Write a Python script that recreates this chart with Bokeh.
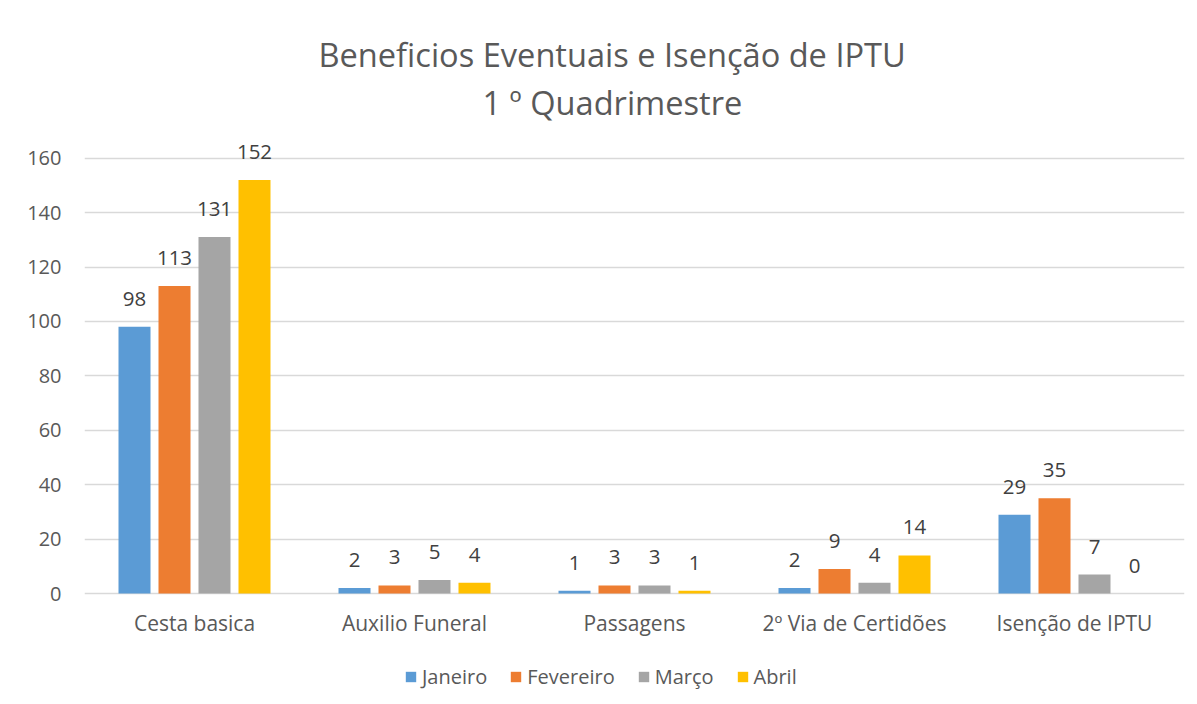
from bokeh.plotting import figure
from bokeh.models import (ColumnDataSource, FactorRange, Range1d, Legend, LegendItem,
                          Title, FixedTicker)
from bokeh.transform import dodge
from bokeh.core.properties import value
from bokeh.embed import file_html
from bokeh.resources import INLINE

categories = ["Cesta basica", "Auxilio Funeral", "Passagens", "2º Via de Certidões", "Isenção de IPTU"]
months = ["Janeiro", "Fevereiro", "Março", "Abril"]
janeiro = [98, 2, 1, 2, 29]
fevereiro = [113, 3, 3, 9, 35]
marco = [131, 5, 3, 4, 7]
abril = [152, 4, 1, 14, 0]
y_ticks = [0, 20, 40, 60, 80, 100, 120, 140, 160]

series = [janeiro, fevereiro, marco, abril]
colors = ["#5B9BD5", "#ED7D31", "#A5A5A5", "#FFC000"]
offsets = [-0.2727, -0.0909, 0.0909, 0.2727]
FONT = "Open Sans"
TXT = "#595959"

# the frame extends below zero so that category labels and legend sit inside it
p = figure(frame_width=1100, frame_height=575, output_backend="svg", toolbar_location=None,
           x_range=FactorRange(factors=categories, range_padding=0),
           y_range=Range1d(-39.3, 172),
           min_border_left=84, min_border_right=13, min_border_top=125, min_border_bottom=4)

p.title.text = "Beneficios Eventuais e Isenção de IPTU"
p.title.text_font = FONT
p.title.text_font_size = "32.6px"
p.title.text_font_style = "normal"
p.title.text_color = TXT
p.title.align = "left"
p.title.offset = 234
p.title.standoff = 1
t2 = Title(text="1 º Quadrimestre", text_font=FONT, text_font_size="32.6px",
           text_font_style="normal", text_color=TXT, align="left", offset=398, standoff=1)
p.add_layout(t2, "above")

items = []
for name, vals, col, off in zip(months, series, colors, offsets):
    src = ColumnDataSource(dict(cat=categories, val=vals, lab=[str(v) for v in vals]))
    r = p.vbar(x=dodge("cat", off, range=p.x_range), top="val", width=0.1455, source=src,
               fill_color=col, line_color=None)
    p.text(x=dodge("cat", off, range=p.x_range), y="val", text="lab", source=src,
           text_align="center", text_baseline="middle", y_offset=-28,
           text_font=value(FONT), text_font_size="20.5px", text_color="#404040")
    items.append(LegendItem(label=name, renderers=[r]))

# category labels under the zero line
cat_src = ColumnDataSource(dict(cat=categories, base=[0] * len(categories)))
p.text(x="cat", y="base", text="cat", source=cat_src, text_align="center",
       text_baseline="middle", y_offset=29, text_font=value(FONT),
       text_font_size="21px", text_color=TXT)

legend = Legend(items=items, orientation="horizontal", location=(320, 10),
                glyph_width=13, glyph_height=13, label_standoff=5, spacing=22,
                label_text_font=FONT, label_text_font_size="20px", label_text_color=TXT,
                border_line_alpha=0, background_fill_alpha=0, padding=0, margin=0)
p.add_layout(legend, "center")

p.yaxis.ticker = FixedTicker(ticks=y_ticks)
p.ygrid.ticker = FixedTicker(ticks=y_ticks)
p.ygrid.grid_line_color = "#D9D9D9"
p.ygrid.grid_line_width = 1.3
p.xgrid.grid_line_color = None
p.yaxis.axis_line_color = None
p.yaxis.major_tick_line_color = None
p.yaxis.minor_tick_line_color = None
p.yaxis.major_label_standoff = 17
p.yaxis.major_label_text_font = FONT
p.yaxis.major_label_text_font_size = "20px"
p.yaxis.major_label_text_color = TXT
p.xaxis.visible = False
p.outline_line_color = None

open("out.html", "w").write(file_html(p, INLINE))
